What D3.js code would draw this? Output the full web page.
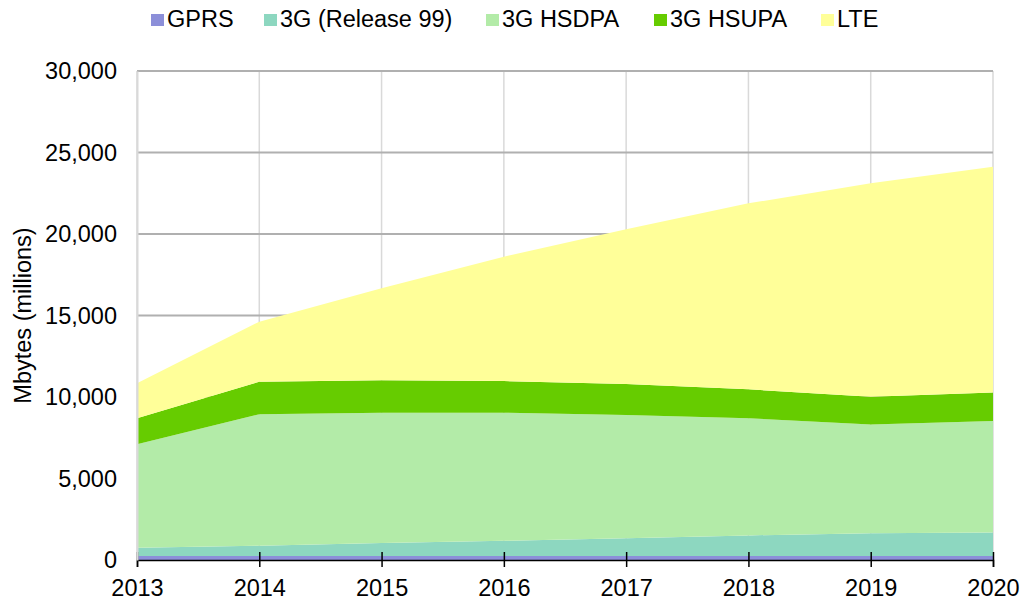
<!DOCTYPE html>
<meta charset="utf-8">
<html>
  <style>
    body, html{ margin: 0; background: #fff;}
    text{ font-family: "Liberation Sans", Arial, sans-serif; fill: #000; }
    .grid-h line{ stroke: #b0b0b0; stroke-width: 2; }
    .grid-v line{ stroke: #d9d9d9; stroke-width: 1.5; }
    .axis-x path, .axis-x line{ stroke: #000; stroke-width: 1.5; }
  </style>
  <body>
    <svg></svg>
    <script src="https://cdn.jsdelivr.net/npm/d3@7"></script>
    <script>
var years = [2013, 2014, 2015, 2016, 2017, 2018, 2019, 2020]
var seriesNames = ['GPRS', '3G (Release 99)', '3G HSDPA', '3G HSUPA', 'LTE']
var gprs   = [250, 250, 250, 250, 250, 250, 250, 250]
var r99    = [500, 630, 790, 930, 1080, 1260, 1390, 1430]
var hsdpa  = [6350, 8060, 8000, 7860, 7570, 7180, 6680, 6850]
var hsupa  = [1590, 2000, 1980, 1940, 1900, 1780, 1700, 1740]
var lte    = [2150, 3680, 5650, 7630, 9490, 11410, 13090, 13860]
var yTicks = [0, 5000, 10000, 15000, 20000, 25000, 30000]
var colors = ['#8c8fd9', '#8dd7c0', '#b3eba8', '#66cc00', '#ffff99']

var w = 1021, h = 601
  , fs = 23.5
  , m = { left: 137, right: 28, top: 71, bottom: 41 }
  , svg = d3.select('svg').attr('width', w).attr('height', h)

var rows = years.map(function(y, i){
  return { year: y, 'GPRS': gprs[i], '3G (Release 99)': r99[i], '3G HSDPA': hsdpa[i]
    , '3G HSUPA': hsupa[i], 'LTE': lte[i] }
})

var x = d3.scaleLinear().domain([2013, 2020]).range([m.left, w - m.right])
  , y = d3.scaleLinear().domain([0, 30000]).range([h - m.bottom, m.top])

// grid
svg.append('g').attr('class', 'grid-v').selectAll('line')
  .data(years).enter().append('line')
  .attr('x1', x).attr('x2', x).attr('y1', y(30000)).attr('y2', y(0))

svg.append('g').attr('class', 'grid-h').selectAll('line')
  .data(yTicks.slice(1)).enter().append('line')
  .attr('x1', x(2013)).attr('x2', x(2020)).attr('y1', y).attr('y2', y)

// stacked areas
var stack = d3.stack().keys(seriesNames)
  , area = d3.area()
      .x(function(d){ return x(d.data.year) })
      .y0(function(d){ return y(d[0]) })
      .y1(function(d){ return y(d[1]) })

svg.append('g').selectAll('path')
  .data(stack(rows)).enter().append('path')
  .attr('d', area)
  .attr('fill', function(d, i){ return colors[i] })

// axes
var xAxis = svg.append('g').attr('class', 'axis-x')
  .attr('transform', 'translate(0,' + y(0) + ')')
  .call(d3.axisBottom(x).tickValues(years).tickFormat(d3.format('d')).tickSizeOuter(0).tickSize(7))
xAxis.selectAll('.tick line').attr('y1', -8)
xAxis.selectAll('text').attr('font-size', fs).attr('dy', '0.71em').attr('y', 19)
  .style('font-family', '"Liberation Sans", Arial, sans-serif')

var yAxis = svg.append('g')
  .attr('transform', 'translate(' + m.left + ',0)')
  .call(d3.axisLeft(y).tickValues(yTicks).tickFormat(d3.format(',')).tickSize(0).tickPadding(20))
yAxis.select('.domain').attr('stroke', '#d9d9d9').attr('stroke-width', 2)
yAxis.selectAll('text').attr('font-size', fs)
  .style('font-family', '"Liberation Sans", Arial, sans-serif')

svg.append('text')
  .attr('transform', 'translate(31,' + ((y(0) + y(30000)) / 2) + ') rotate(-90)')
  .attr('text-anchor', 'middle')
  .attr('font-size', fs)
  .text('Mbytes (millions)')

// legend
var legendX = [151, 264, 486, 654, 821]
var legend = svg.append('g').selectAll('g')
  .data(seriesNames).enter().append('g')
  .attr('transform', function(d, i){ return 'translate(' + legendX[i] + ',0)' })
legend.append('rect').attr('x', 0).attr('y', 14).attr('width', 13).attr('height', 12)
  .attr('fill', function(d, i){ return colors[i] })
legend.append('text').attr('x', 16).attr('y', 27).attr('font-size', fs).text(function(d){ return d })
    </script>
  </body>
</html>
